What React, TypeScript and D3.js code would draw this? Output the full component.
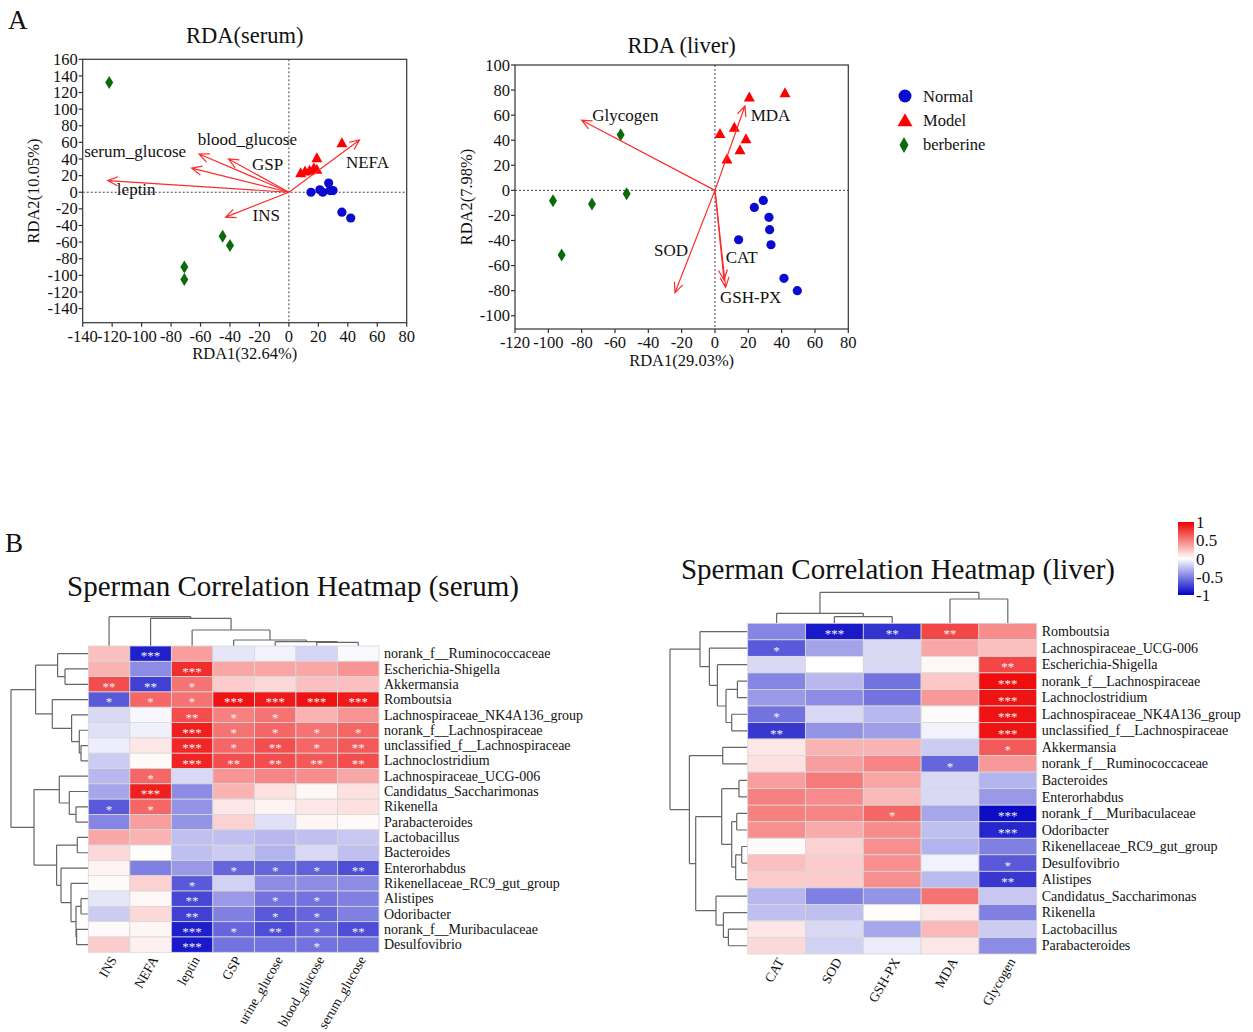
import React from "react";
import * as d3 from "d3";

const FONT = "'Liberation Serif','Times New Roman',Times,serif";

// ---------------- RDA (serum) data ----------------
const serumNormalX = [15, 21, 23, 27, 28, 30, 36, 42];
const serumNormalY = [0, 3, 0, 11, 2, 2, -24, -31];
const serumModelX = [36, 19, 8, 11, 14, 17, 19];
const serumModelY = [59, 41, 23, 25, 26, 29, 27];
const serumBerbX = [-122, -45, -40, -71, -71];
const serumBerbY = [132, -53, -64, -90, -105];
const serumEnvNames = ["NEFA", "blood_glucose", "GSP", "serum_glucose", "leptin", "INS"];
const serumEnvX = [48, -61, -41, -66, -123, -43];
const serumEnvY = [63, 46, 40, 29, 14, -30];
const serumLabelX = [38.7, -61.8, -25, -139, -116.8, -24.7];
const serumLabelY = [29, 56.8, 26.8, 42, -3.2, -34.4];
const serumXTicks = [-140, -120, -100, -80, -60, -40, -20, 0, 20, 40, 60, 80];
const serumYTicks = [-140, -120, -100, -80, -60, -40, -20, 0, 20, 40, 60, 80, 100, 120, 140, 160];

// ---------------- RDA (liver) data ----------------
const liverNormalX = [29, 23.6, 32.4, 32.8, 33.6, 14.2, 41.4, 49.4];
const liverNormalY = [-8, -13.6, -21.5, -31.4, -43.4, -39.4, -70.2, -80];
const liverModelX = [42, 20.6, 3, 11.6, 18.6, 15, 7.2];
const liverModelY = [77.4, 74, 45, 50, 40.7, 32, 24.7];
const liverBerbX = [-97.2, -73.8, -53, -56.6, -92];
const liverBerbY = [-8.2, -10.9, -2.7, 44.4, -51.6];
const liverEnvNames = ["Glycogen", "MDA", "CAT", "GSH-PX", "SOD"];
const liverEnvX = [-80, 18, 5.4, 6.4, -24];
const liverEnvY = [56, 67.3, -71.5, -77.4, -81.6];
const liverLabelX = [-73.6, 21.4, 6.4, 3, -36.6];
const liverLabelY = [55, 55.6, -58, -89.6, -52];
const liverXTicks = [-120, -100, -80, -60, -40, -20, 0, 20, 40, 60, 80];
const liverYTicks = [-100, -80, -60, -40, -20, 0, 20, 40, 60, 80, 100];

const legendNames = ["Normal", "Model", "berberine"];

// ---------------- Heatmap (serum) ----------------
const serumCols = ["INS", "NEFA", "leptin", "GSP", "urine_glucose", "blood_glucose", "serum_glucose"];
const serumRows = [
  "norank_f__Ruminococcaceae", "Escherichia-Shigella", "Akkermansia", "Romboutsia",
  "Lachnospiraceae_NK4A136_group", "norank_f__Lachnospiraceae", "unclassified_f__Lachnospiraceae",
  "Lachnoclostridium", "Lachnospiraceae_UCG-006", "Candidatus_Saccharimonas", "Rikenella",
  "Parabacteroides", "Lactobacillus", "Bacteroides", "Enterorhabdus", "Rikenellaceae_RC9_gut_group",
  "Alistipes", "Odoribacter", "norank_f__Muribaculaceae", "Desulfovibrio",
];
const serumValues = [
  [0.25, -0.88, 0.38, -0.1, -0.05, -0.17, -0.02],
  [0.3, -0.45, 0.82, 0.35, 0.35, 0.35, 0.42],
  [0.7, -0.75, 0.55, 0.2, 0.15, 0.25, 0.25],
  [-0.65, 0.6, 0.55, 0.92, 0.9, 0.93, 0.9],
  [-0.15, -0.03, 0.7, 0.5, 0.55, 0.3, 0.42],
  [-0.12, -0.06, 0.88, 0.55, 0.6, 0.55, 0.6],
  [-0.07, 0.1, 0.85, 0.6, 0.7, 0.6, 0.65],
  [-0.2, 0.02, 0.86, 0.7, 0.7, 0.65, 0.7],
  [-0.28, 0.6, -0.15, 0.42, 0.48, 0.45, 0.35],
  [-0.35, 0.88, -0.45, 0.3, 0.12, 0.03, 0.12],
  [-0.65, 0.6, -0.42, 0.1, 0.05, 0.1, 0.12],
  [-0.48, 0.38, -0.42, 0.18, -0.12, 0.04, 0.02],
  [0.35, 0.3, -0.25, -0.25, -0.28, -0.25, -0.22],
  [0.15, 0.01, -0.25, -0.2, -0.3, -0.15, -0.25],
  [0.05, -0.5, -0.4, -0.6, -0.6, -0.62, -0.7],
  [0.02, 0.18, -0.65, -0.18, -0.45, -0.45, -0.45],
  [-0.1, 0.03, -0.72, -0.4, -0.55, -0.55, -0.5],
  [-0.2, 0.15, -0.75, -0.5, -0.65, -0.6, -0.5],
  [0.02, 0.04, -0.88, -0.6, -0.7, -0.6, -0.7],
  [0.2, 0.06, -0.9, -0.55, -0.55, -0.55, -0.55],
];
const serumStars = [
  ["", "***", "", "", "", "", ""],
  ["", "", "***", "", "", "", ""],
  ["**", "**", "*", "", "", "", ""],
  ["*", "*", "*", "***", "***", "***", "***"],
  ["", "", "**", "*", "*", "", ""],
  ["", "", "***", "*", "*", "*", "*"],
  ["", "", "***", "*", "**", "*", "**"],
  ["", "", "***", "**", "**", "**", "**"],
  ["", "*", "", "", "", "", ""],
  ["", "***", "", "", "", "", ""],
  ["*", "*", "", "", "", "", ""],
  ["", "", "", "", "", "", ""],
  ["", "", "", "", "", "", ""],
  ["", "", "", "", "", "", ""],
  ["", "", "", "*", "*", "*", "**"],
  ["", "", "*", "", "", "", ""],
  ["", "", "**", "", "*", "*", ""],
  ["", "", "**", "", "*", "*", ""],
  ["", "", "***", "*", "**", "*", "**"],
  ["", "", "***", "", "", "*", ""],
];
type Tree = number | [Tree, Tree, number];
const serumRowTree: Tree = [
  [[0, [1, 2, 23.3], 30.7], [3, [4, [5, [6, 7, 7.3], 9], 16.7], 36], 52.7],
  [
    [8, [9, [10, 11, 12.3], 19], 29],
    [[12, 13, 11], [14, [15, [[16, 17, 7.3], [18, 19, 11.7], 12.3], 17.3], 27.3], 31.7],
    54.3,
  ],
  77.3,
];
const serumColTree: Tree = [0, [1, [2, [3, [4, [5, 6, 3.7], 4.3], 6], 16], 27.7], 29.3];

// ---------------- Heatmap (liver) ----------------
const liverCols = ["CAT", "SOD", "GSH-PX", "MDA", "Glycogen"];
const liverRows = [
  "Romboutsia", "Lachnospiraceae_UCG-006", "Escherichia-Shigella", "norank_f__Lachnospiraceae",
  "Lachnoclostridium", "Lachnospiraceae_NK4A136_group", "unclassified_f__Lachnospiraceae",
  "Akkermansia", "norank_f__Ruminococcaceae", "Bacteroides", "Enterorhabdus",
  "norank_f__Muribaculaceae", "Odoribacter", "Rikenellaceae_RC9_gut_group", "Desulfovibrio",
  "Alistipes", "Candidatus_Saccharimonas", "Rikenella", "Lactobacillus", "Parabacteroides",
];
const liverValues = [
  [-0.48, -0.9, -0.8, 0.72, 0.45],
  [-0.65, -0.36, -0.15, 0.35, 0.25],
  [-0.15, 0.0, -0.15, 0.03, 0.72],
  [-0.48, -0.28, -0.55, 0.22, 0.95],
  [-0.4, -0.45, -0.55, 0.4, 0.92],
  [-0.55, -0.15, -0.28, 0.02, 0.93],
  [-0.78, -0.42, -0.38, -0.05, 0.92],
  [0.1, 0.3, 0.3, -0.2, 0.65],
  [0.12, 0.38, 0.48, -0.6, 0.4],
  [0.38, 0.52, 0.35, -0.15, -0.3],
  [0.5, 0.46, 0.28, -0.15, -0.4],
  [0.5, 0.48, 0.6, -0.35, -0.95],
  [0.44, 0.33, 0.45, -0.25, -0.85],
  [0.02, 0.18, 0.44, -0.3, -0.5],
  [0.25, 0.2, 0.44, -0.05, -0.65],
  [0.2, 0.2, 0.44, -0.27, -0.78],
  [-0.28, -0.5, -0.42, 0.55, -0.22],
  [-0.25, -0.25, 0.01, 0.1, -0.5],
  [0.1, -0.15, -0.35, 0.28, -0.2],
  [0.15, -0.18, -0.08, 0.1, -0.45],
];
const liverStars = [
  ["", "***", "**", "**", ""],
  ["*", "", "", "", ""],
  ["", "", "", "", "**"],
  ["", "", "", "", "***"],
  ["", "", "", "", "***"],
  ["*", "", "", "", "***"],
  ["**", "", "", "", "***"],
  ["", "", "", "", "*"],
  ["", "", "", "*", ""],
  ["", "", "", "", ""],
  ["", "", "", "", ""],
  ["", "", "*", "", "***"],
  ["", "", "", "", "***"],
  ["", "", "", "", ""],
  ["", "", "", "", "*"],
  ["", "", "", "", "**"],
  ["", "", "", "", ""],
  ["", "", "", "", ""],
  ["", "", "", "", ""],
  ["", "", "", "", ""],
];
const liverRowTree: Tree = [
  [0, [1, [2, [[3, 4, 10.3], [5, 6, 16], 21.7], 30.3], 38.3], 47.7],
  [
    [7, 8, 25],
    [
      [[9, 10, 8.7], [[11, 12, 11], [[13, 14, 6], 15, 12], 16], 26],
      [16, [17, [18, 19, 19.3], 24.3], 31.7],
      52,
    ],
    58.3,
  ],
  77.7,
];
const liverColTree: Tree = [[0, [1, 2, 6.7], 10], [3, 4, 24.3], 31];

const colorTicks = [1, 0.5, 0, -0.5, -1];

// ---------------- helpers ----------------
const corrColor = d3.scaleLinear<string>().domain([-1, 0, 1]).range(["#0000c4", "#ffffff", "#ee0000"]);
const BLUE = "#0a0ad2";
const RED = "#ff0000";
const GREEN = "#0b6b0b";
const ARROW = "#ff2a2a";

function arrowPath(x1: number, y1: number, x2: number, y2: number, len = 11, ang = 0.42) {
  const a = Math.atan2(y2 - y1, x2 - x1);
  const p1 = [x2 - len * Math.cos(a - ang), y2 - len * Math.sin(a - ang)];
  const p2 = [x2 - len * Math.cos(a + ang), y2 - len * Math.sin(a + ang)];
  return `M${x1},${y1}L${x2},${y2}M${p1[0]},${p1[1]}L${x2},${y2}L${p2[0]},${p2[1]}`;
}
const triPath = (cx: number, cy: number, w: number, h: number) =>
  `M${cx},${cy - h * 0.6}L${cx + w / 2},${cy + h * 0.4}L${cx - w / 2},${cy + h * 0.4}Z`;
const diaPath = (cx: number, cy: number, w: number, h: number) =>
  `M${cx},${cy - h / 2}L${cx + w / 2},${cy}L${cx},${cy + h / 2}L${cx - w / 2},${cy}Z`;

type RDAProps = {
  xDomain: [number, number];
  yDomain: [number, number];
  xRange: [number, number];
  yRange: [number, number];
  xTicks: number[];
  yTicks: number[];
  normalX: number[]; normalY: number[];
  modelX: number[]; modelY: number[];
  berbX: number[]; berbY: number[];
  envNames: string[]; envX: number[]; envY: number[];
  labelX: number[]; labelY: number[];
  title: string; titleY: number;
  xLabel: string; yLabel: string;
  xLabelY: number; yLabelX: number;
};

function RDAPlot(p: RDAProps) {
  const x = d3.scaleLinear().domain(p.xDomain).range(p.xRange);
  const y = d3.scaleLinear().domain(p.yDomain).range(p.yRange);
  const [L, R] = p.xRange;
  const [B, T] = p.yRange;
  const fs = 16.5;
  return (
    <g fontFamily={FONT}>
      <text x={(L + R) / 2} y={p.titleY} textAnchor="middle" fontSize={22.5} fill="#111">{p.title}</text>
      <line x1={x(0)} x2={x(0)} y1={T} y2={B} stroke="#444" strokeWidth={1} strokeDasharray="2,2" />
      <line x1={L} x2={R} y1={y(0)} y2={y(0)} stroke="#444" strokeWidth={1} strokeDasharray="2,2" />
      {p.berbX.map((v, i) => (
        <path key={"b" + i} d={diaPath(x(v), y(p.berbY[i]), 8, 13)} fill={GREEN} />
      ))}
      {p.normalX.map((v, i) => (
        <circle key={"n" + i} cx={x(v)} cy={y(p.normalY[i])} r={4.6} fill={BLUE} />
      ))}
      {p.modelX.map((v, i) => (
        <path key={"m" + i} d={triPath(x(v), y(p.modelY[i]), 11, 10)} fill={RED} />
      ))}
      {p.envX.map((v, i) => (
        <path key={"a" + i} d={arrowPath(x(0), y(0), x(v), y(p.envY[i]))} stroke={ARROW} strokeWidth={1.2} fill="none" />
      ))}
      {p.envNames.map((n, i) => (
        <text key={"l" + i} x={x(p.labelX[i])} y={y(p.labelY[i])} fontSize={17} fill="#111">{n}</text>
      ))}
      <rect x={L} y={T} width={R - L} height={B - T} fill="none" stroke="#333" strokeWidth={1.2} />
      {p.yTicks.map((t) => (
        <g key={"yt" + t}>
          <line x1={L - 4} x2={L} y1={y(t)} y2={y(t)} stroke="#333" strokeWidth={1.2} />
          <text x={L - 5} y={y(t) + fs * 0.34} textAnchor="end" fontSize={fs} fill="#111">{t}</text>
        </g>
      ))}
      {p.xTicks.map((t) => (
        <g key={"xt" + t}>
          <line x1={x(t)} x2={x(t)} y1={B} y2={B + 4} stroke="#333" strokeWidth={1.2} />
          <text x={x(t)} y={B + 19} textAnchor="middle" fontSize={fs} fill="#111">{t}</text>
        </g>
      ))}
      <text x={(L + R) / 2} y={p.xLabelY} textAnchor="middle" fontSize={16.5} fill="#111">{p.xLabel}</text>
      <text
        transform={`translate(${p.yLabelX},${(T + B) / 2}) rotate(-90)`}
        textAnchor="middle"
        dy="0.35em"
        fontSize={16.5}
        fill="#111"
      >
        {p.yLabel}
      </text>
    </g>
  );
}

type Seg = [number, number, number, number];
function dendro(tree: Tree, leafPos: (i: number) => number, segs: Seg[]): { pos: number; h: number } {
  if (typeof tree === "number") return { pos: leafPos(tree), h: 0 };
  const a = dendro(tree[0], leafPos, segs);
  const b = dendro(tree[1], leafPos, segs);
  const h = tree[2];
  segs.push([a.pos, h, b.pos, h]);
  segs.push([a.pos, h, a.pos, a.h]);
  segs.push([b.pos, h, b.pos, b.h]);
  return { pos: (a.pos + b.pos) / 2, h };
}

type HMProps = {
  left: number; top: number; width: number; height: number;
  rows: string[]; cols: string[]; values: number[][]; stars: string[][];
  rowTree: Tree; colTree: Tree;
  title: string; titleX: number; titleY: number;
};

function Heatmap(p: HMProps) {
  const xb = d3.scaleBand<string>().domain(p.cols).range([p.left, p.left + p.width]);
  const yb = d3.scaleBand<string>().domain(p.rows).range([p.top, p.top + p.height]);
  const hRow = d3.scaleLinear().domain([0, 80]).range([p.left, p.left - 80]);
  const hCol = d3.scaleLinear().domain([0, 40]).range([p.top, p.top - 40]);
  const rowSegs: Seg[] = [];
  dendro(p.rowTree, (i) => (yb(p.rows[i]) as number) + yb.bandwidth() / 2, rowSegs);
  const colSegs: Seg[] = [];
  dendro(p.colTree, (i) => (xb(p.cols[i]) as number) + xb.bandwidth() / 2, colSegs);
  const rowD = rowSegs.map(([p1, h1, p2, h2]) => `M${hRow(h1)},${p1}L${hRow(h2)},${p2}`).join("");
  const colD = colSegs.map(([p1, h1, p2, h2]) => `M${p1},${hCol(h1)}L${p2},${hCol(h2)}`).join("");
  const right = p.left + p.width;
  const bottom = p.top + p.height;
  return (
    <g fontFamily={FONT}>
      <text x={p.titleX} y={p.titleY} textAnchor="middle" fontSize={29} fill="#111">{p.title}</text>
      <path d={rowD} stroke="#666" strokeWidth={1.2} fill="none" />
      <path d={colD} stroke="#666" strokeWidth={1.2} fill="none" />
      {p.values.map((row, ri) =>
        row.map((v, ci) => (
          <rect
            key={ri + "-" + ci}
            x={xb(p.cols[ci])}
            y={yb(p.rows[ri])}
            width={xb.bandwidth()}
            height={yb.bandwidth()}
            fill={corrColor(v)}
            stroke="#d8d8d8"
            strokeWidth={0.8}
          />
        ))
      )}
      {p.stars.map((row, ri) =>
        row.map((s, ci) =>
          s ? (
            <text
              key={"s" + ri + "-" + ci}
              x={(xb(p.cols[ci]) as number) + xb.bandwidth() / 2}
              y={(yb(p.rows[ri]) as number) + yb.bandwidth() / 2 + 6.8}
              textAnchor="middle"
              fontSize={13}
              fill="#f2f2f2"
            >
              {s}
            </text>
          ) : null
        )
      )}
      {p.rows.map((r) => (
        <text key={"r" + r} x={right + 5} y={(yb(r) as number) + yb.bandwidth() / 2 + 4.6} fontSize={14} fill="#111">
          {r}
        </text>
      ))}
      {p.cols.map((c) => (
        <text
          key={"c" + c}
          transform={`translate(${(xb(c) as number) + xb.bandwidth() / 2 + 4},${bottom + 5}) rotate(-60)`}
          textAnchor="end"
          dy="0.35em"
          fontSize={13.5}
          fill="#111"
        >
          {c}
        </text>
      ))}
    </g>
  );
}

function ColorBar() {
  const y = d3.scaleLinear().domain([-1, 1]).range([595, 522]);
  const stops = d3.range(-1, 1.001, 0.25);
  return (
    <g fontFamily={FONT}>
      <defs>
        <linearGradient id="cbar" x1="0" y1="1" x2="0" y2="0">
          {stops.map((s) => (
            <stop key={s} offset={`${((s + 1) / 2) * 100}%`} stopColor={corrColor(s)} />
          ))}
        </linearGradient>
      </defs>
      <rect x={1178} y={y(1)} width={16} height={y(-1) - y(1)} fill="url(#cbar)" />
      {colorTicks.map((t) => (
        <text key={t} x={1196} y={y(t) + 6} fontSize={17} fill="#111">{t}</text>
      ))}
    </g>
  );
}

function Legend() {
  const y = d3.scalePoint<string>().domain(legendNames).range([96, 144]);
  return (
    <g fontFamily={FONT}>
      <circle cx={905} cy={y("Normal")} r={6.5} fill={BLUE} />
      <path d={triPath(905, (y("Model") as number) + 1, 15, 13)} fill={RED} />
      <path d={diaPath(904, (y("berberine") as number) + 1, 9, 16)} fill={GREEN} />
      {legendNames.map((n) => (
        <text key={n} x={923} y={(y(n) as number) + 6} fontSize={16.5} fill="#111">{n}</text>
      ))}
    </g>
  );
}

export default function App() {
  return (
    <svg
      width={1253}
      height={1032}
      viewBox="0 0 1253 1032"
      style={{ position: "absolute", left: 0, top: 0, background: "#fff", display: "block" }}
    >
      <rect x={0} y={0} width={1253} height={1032} fill="#fff" />
      <text x={8} y={29} fontFamily={FONT} fontSize={27} fill="#111">A</text>
      <text x={5} y={552} fontFamily={FONT} fontSize={27} fill="#111">B</text>
      <RDAPlot
        xDomain={[-140, 80]}
        yDomain={[-157, 160]}
        xRange={[82.7, 406.7]}
        yRange={[322.7, 59.3]}
        xTicks={serumXTicks}
        yTicks={serumYTicks}
        normalX={serumNormalX} normalY={serumNormalY}
        modelX={serumModelX} modelY={serumModelY}
        berbX={serumBerbX} berbY={serumBerbY}
        envNames={serumEnvNames} envX={serumEnvX} envY={serumEnvY}
        labelX={serumLabelX} labelY={serumLabelY}
        title="RDA(serum)" titleY={43}
        xLabel="RDA1(32.64%)" yLabel="RDA2(10.05%)"
        xLabelY={359} yLabelX={33}
      />
      <RDAPlot
        xDomain={[-120, 80]}
        yDomain={[-110.6, 100]}
        xRange={[515, 848.3]}
        yRange={[329, 65]}
        xTicks={liverXTicks}
        yTicks={liverYTicks}
        normalX={liverNormalX} normalY={liverNormalY}
        modelX={liverModelX} modelY={liverModelY}
        berbX={liverBerbX} berbY={liverBerbY}
        envNames={liverEnvNames} envX={liverEnvX} envY={liverEnvY}
        labelX={liverLabelX} labelY={liverLabelY}
        title="RDA (liver)" titleY={53}
        xLabel="RDA1(29.03%)" yLabel="RDA2(7.98%)"
        xLabelY={366} yLabelX={466}
      />
      <Legend />
      <Heatmap
        left={88.3} top={646} width={290.7} height={306.3}
        rows={serumRows} cols={serumCols} values={serumValues} stars={serumStars}
        rowTree={serumRowTree} colTree={serumColTree}
        title="Sperman Correlation Heatmap (serum)" titleX={293} titleY={596}
      />
      <Heatmap
        left={747.7} top={623.3} width={289} height={330.7}
        rows={liverRows} cols={liverCols} values={liverValues} stars={liverStars}
        rowTree={liverRowTree} colTree={liverColTree}
        title="Sperman Correlation Heatmap (liver)" titleX={898} titleY={579}
      />
      <ColorBar />
    </svg>
  );
}
